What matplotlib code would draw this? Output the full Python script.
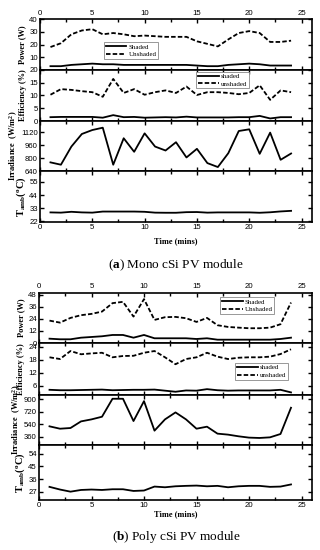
import matplotlib
matplotlib.use("Agg")
import matplotlib.pyplot as plt
from matplotlib.ticker import MultipleLocator

plt.rcParams['mathtext.fontset'] = 'custom'
plt.rcParams['mathtext.rm'] = 'Liberation Serif:bold'
plt.rcParams['mathtext.bf'] = 'Liberation Serif:bold'
plt.rcParams['mathtext.it'] = 'Liberation Serif:bold:italic'
plt.rcParams['font.family'] = 'Liberation Sans'

time = list(range(1, 25))

# (a) Mono cSi
a_power_shaded = [3, 3, 4, 4.5, 5, 4.5, 4.5, 4, 4, 4, 4, 4, 4, 4, 3.5, 3, 3, 4, 4.5, 5, 4.5, 3.5, 3.5, 3.5]
a_power_unshaded = [18, 21, 28, 31, 32, 28, 29, 28, 26.5, 27, 26.5, 26, 26, 26, 22.5, 20.5, 18.5, 24, 29, 30.5, 29, 22, 22, 23]
a_eff_shaded = [1.5, 1.6, 1.6, 1.6, 1.6, 1.3, 2.3, 1.5, 1.6, 1.3, 1.4, 1.5, 1.4, 1.7, 1.4, 1.4, 1.4, 1.4, 1.5, 1.5, 2.0, 1.0, 1.5, 1.5]
a_eff_unshaded = [10.3, 12.5, 12.2, 11.7, 11.3, 9.5, 16.5, 11, 12.5, 10.3, 11.3, 12, 11, 13.5, 10.2, 11.3, 11.3, 11, 10.5, 11, 14, 8.3, 12, 11.3]
a_irr = [747, 718, 943, 1099, 1148, 1177, 718, 1046, 878, 1107, 943, 894, 997, 808, 915, 738, 689, 861, 1136, 1157, 853, 1116, 779, 857]
a_temp = [29.5, 29.3, 30, 29.5, 29.3, 30.2, 30.2, 30.2, 30.2, 30, 29.3, 29.2, 29.2, 29.7, 29.8, 29.3, 29.5, 29.5, 29.5, 29.5, 29.2, 29.6, 30.3, 30.8]

# (b) Poly cSi
b_power_shaded = [4.3, 3.7, 3.7, 5.3, 6, 6.7, 8, 8, 5.3, 8, 4.7, 4.7, 4.7, 4.7, 4, 4.7, 3.3, 3.3, 3.3, 3.3, 3.3, 3.3, 4, 5.3]
b_power_unshaded = [22.3, 20.3, 25, 27.7, 29, 31.3, 39.7, 41, 26.3, 43.7, 23, 25.7, 26, 24.7, 21, 25, 17.7, 16, 15.3, 14.7, 14.7, 15.3, 18.7, 40.3]
b_eff_shaded = [4.2, 4, 4, 4.1, 4.2, 4.3, 4, 4.1, 4.2, 4.2, 4.3, 3.8, 3.3, 3.9, 3.8, 4.5, 4, 3.8, 3.9, 3.9, 3.9, 3.9, 4.2, 3.0]
b_eff_unshaded = [19.2, 18.4, 22.1, 20.6, 21, 21.3, 19.2, 19.8, 19.9, 21.3, 22.1, 19.2, 16, 18.4, 19.2, 21.3, 19.5, 18.4, 19, 19.2, 19.2, 19.5, 20.7, 22.9]
b_irr = [508, 474, 484, 579, 608, 646, 904, 904, 584, 870, 446, 608, 708, 608, 474, 503, 403, 389, 365, 346, 341, 350, 398, 775]
b_temp = [30.6, 28.7, 27.2, 28.4, 28.7, 28.4, 28.9, 28.9, 27.7, 28, 30.8, 30.3, 31, 31.3, 31.5, 31, 31.3, 30.3, 31, 31.3, 31.3, 30.6, 30.8, 32.3]

a_power_ticks = [10, 20, 30, 40]
a_eff_ticks = [0, 5, 10, 15, 20]
a_irr_ticks = [640, 800, 960, 1120]
a_temp_ticks = [22, 33, 44, 55]
b_power_ticks = [0, 12, 24, 36, 48]
b_eff_ticks = [6, 12, 18, 24]
b_irr_ticks = [360, 540, 720, 900]
b_temp_ticks = [27, 36, 45, 54]
x_ticks = [0, 5, 10, 15, 20, 25]

W, H = 320, 550
fig = plt.figure(figsize=(W / 100, H / 100), dpi=100)

LW = 1.3
TICKFS = 5.6
LABFS = 6.0
lab_font = dict(family='Liberation Serif', weight='bold', size=LABFS)


def add_ax(x0, x1, ytop, ybot):
    return fig.add_axes([x0 / W, (H - ybot) / H, (x1 - x0) / W, (ybot - ytop) / H])


def style(ax, ylim, yticks, top_labels=False, bottom_labels=False):
    ax.set_xlim(0, 26)
    ax.set_ylim(*ylim)
    ax.set_yticks(yticks)
    ax.set_xticks(x_ticks)
    ax.xaxis.set_minor_locator(MultipleLocator(2.5))
    ax.tick_params(axis='both', which='both', direction='in', top=True, right=True,
                   labelsize=TICKFS, pad=1.5, width=1.0)
    ax.tick_params(which='major', length=3)
    ax.tick_params(which='minor', length=2)
    ax.tick_params(axis='x', labeltop=top_labels, labelbottom=bottom_labels)
    for s in ax.spines.values():
        s.set_linewidth(1.2)


def legend(ax, labels, bbox):
    leg = ax.legend(labels, loc='upper left', bbox_to_anchor=bbox, frameon=True,
                    fancybox=False, edgecolor='#888888', framealpha=1,
                    prop=dict(family='Liberation Serif', size=5.0),
                    handlelength=3.0, handletextpad=0.3, borderpad=0.25,
                    labelspacing=0.25, borderaxespad=0)
    leg.get_frame().set_linewidth(0.6)


def make(x0, x1, rows, data, ticks, lims, legs, timey, caption, capy, letter):
    axes = []
    for i, (ytop, ybot) in enumerate(rows):
        axes.append(add_ax(x0, x1, ytop, ybot))
    p_s, p_u, e_s, e_u, irr, tmp = data
    ax = axes[0]
    ax.plot(time, p_s, color='black', lw=LW)
    ax.plot(time, p_u, color='black', lw=LW, ls=(0, (2.5, 1.2)))
    style(ax, lims[0], ticks[0], top_labels=True)
    ax.set_ylabel('Power (W)', **lab_font, labelpad=2)
    legend(ax, ['Shaded', 'Unshaded'], legs[0])

    ax = axes[1]
    ax.plot(time, e_s, color='black', lw=LW)
    ax.plot(time, e_u, color='black', lw=LW, ls=(0, (2.5, 1.2)))
    style(ax, lims[1], ticks[1])
    ax.set_ylabel('Efficiency (%)', **lab_font, labelpad=2)
    legend(ax, ['shaded', 'unshaded'], legs[1])

    ax = axes[2]
    ax.plot(time, irr, color='black', lw=LW)
    style(ax, lims[2], ticks[2])
    ax.set_ylabel('Irradiance  (W/m$^{2}$)', **lab_font, labelpad=1)

    ax = axes[3]
    ax.plot(time, tmp, color='black', lw=LW)
    style(ax, lims[3], ticks[3], bottom_labels=True)
    ax.set_ylabel('T$_{\\mathrm{amb}}$($^{\\mathrm{o}}$C)', family='Liberation Serif',
                  weight='bold', size=7.5, labelpad=1)

    fig.text(176 / W, 1 - timey / H, 'Time (mins)', ha='center', va='center', **lab_font)
    fig.text(176 / W, 1 - capy / H, '($\\mathbf{%s}$) %s' % (letter, caption), ha='center',
             va='center', family='Liberation Serif', size=9.5)
    return axes


make(40, 312, [(19, 70), (70, 121), (121, 171), (171, 222)],
     (a_power_shaded, a_power_unshaded, a_eff_shaded, a_eff_unshaded, a_irr, a_temp),
     (a_power_ticks, a_eff_ticks, a_irr_ticks, a_temp_ticks),
     ((0, 40), (0, 20), (640, 1260), (21.5, 64)),
     ((0.235, 0.55), (0.574, 0.97)), 241, 'Mono cSi PV module', 265, 'a')

make(39, 312, [(292.5, 343), (343, 395), (395, 445), (445, 500)],
     (b_power_shaded, b_power_unshaded, b_eff_shaded, b_eff_unshaded, b_irr, b_temp),
     (b_power_ticks, b_eff_ticks, b_irr_ticks, b_temp_ticks),
     ((0, 50.3), (1.8, 25.8), (240, 958), (21.3, 60.2)),
     ((0.663, 0.91), (0.718, 0.62)), 514, 'Poly cSi PV module', 537, 'b')

fig.savefig('out.png', dpi=100)
